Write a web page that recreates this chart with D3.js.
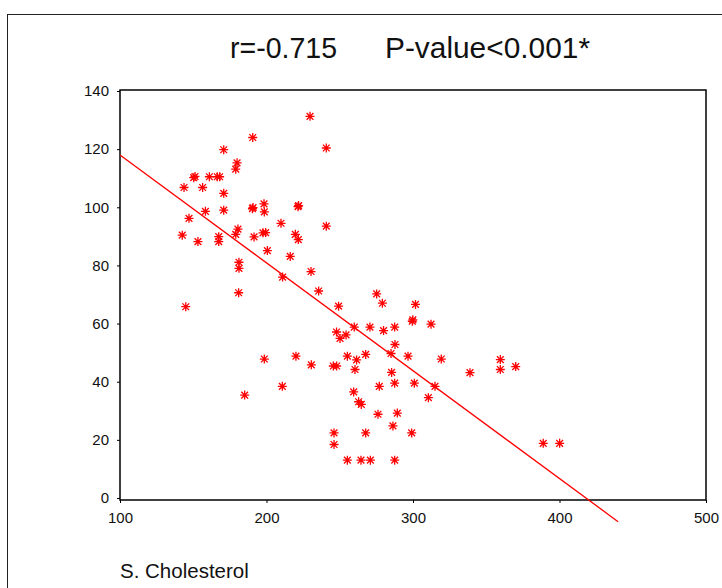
<!DOCTYPE html>
<html>
<head>
<meta charset="utf-8">
<script src="https://cdn.jsdelivr.net/npm/d3@7"></script>
<style>
  body { margin: 0; background: #fff; }
  text { font-family: "Liberation Sans", Arial, sans-serif; fill: #111; }
</style>
</head>
<body>
<div id="chart"></div>
<script>
// Data: S. Cholesterol (x) against the y variable
const cholesterol = [
  143.7, 150.3, 151.2, 161, 166.4, 168, 156.4, 170.8, 179.9, 179,
  190.6, 229.7, 240.8, 170.8, 198.3, 198.5, 190.4, 190.8, 221.5, 221.9,
  147.1, 158.3, 170.8, 142.5, 153.2, 167.4, 167.4, 180.5, 179, 191.5,
  197.6, 199.4, 209.9, 219.7, 221.7, 240.8, 200.6, 216.2, 181.2, 181.2,
  211, 230.4, 181, 235.6, 144.9, 275.2, 279.1, 249.2, 301.7, 299.5,
  299.9, 312.3, 259.9, 270.6, 279.9, 287.5, 247.8, 250.2, 254.3, 287.7,
  285, 296.6, 319.3, 338.9, 359.6, 359.6, 370.1, 198.5, 220.1, 230.6,
  245.6, 247.9, 255.2, 261.5, 267.7, 260.4, 285.4, 287.5, 277, 210.8,
  300.9, 315, 310.5, 185.1, 259.5, 262.9, 264.7, 276.1, 289.3, 286.3,
  246.1, 267.7, 299.1, 246.1, 255.2, 264.5, 270.9, 287.5, 388.9, 400.1
]
const yValues = [
  106.8, 110.2, 110.6, 110.5, 110.5, 110.5, 106.8, 119.8, 115.3, 113.1,
  124, 131.3, 120.4, 104.8, 101.2, 98.4, 99.5, 99.9, 100.2, 100.6,
  96.2, 98.6, 99, 90.4, 88.2, 89.9, 88.2, 92.5, 90.7, 89.8,
  91.2, 91.3, 94.5, 90.7, 88.9, 93.5, 85.1, 83.1, 81.1, 79,
  76, 77.9, 70.6, 71.2, 65.8, 70.2, 67, 66, 66.6, 60.8,
  61.3, 59.8, 58.8, 58.8, 57.6, 58.8, 57.1, 54.9, 56.1, 52.8,
  49.7, 48.8, 47.8, 43.1, 47.6, 44.2, 45.2, 47.8, 48.8, 45.8,
  45.4, 45.4, 48.8, 47.5, 49.4, 44.2, 43.2, 39.5, 38.4, 38.4,
  39.5, 38.4, 34.5, 35.4, 36.5, 33.1, 32.2, 28.8, 29.2, 24.8,
  22.4, 22.4, 22.4, 18.4, 13, 13, 13, 13, 18.8, 18.8
]
const xTicks = [100, 200, 300, 400, 500]
const yTicks = [0, 20, 40, 60, 80, 100, 120, 140]
// Fit line as drawn: intercept and slope, over the x span it covers
const fitIntercept = 155.1
const fitSlope = -0.371
const fitRange = [100, 440]

const W = 722
const H = 588

const svg = d3.select('#chart')
  .append('svg')
  .attr('width', W)
  .attr('height', H)

// Outer frame, runs off the right and bottom edges
svg.append('rect')
  .attr('x', 7.5)
  .attr('y', 14.5)
  .attr('width', 800)
  .attr('height', 700)
  .attr('fill', 'none')
  .attr('stroke', '#222')
  .attr('stroke-width', 1)

const x = d3.scaleLinear().domain([100, 500]).range([120, 706])
const y = d3.scaleLinear().domain([0, 140]).range([498, 91])

// Plot box
svg.append('rect')
  .attr('x', 120)
  .attr('y', 90)
  .attr('width', 706 - 120)
  .attr('height', 500 - 90)
  .attr('fill', 'none')
  .attr('stroke', '#000')
  .attr('stroke-width', 1.5)

// Axes
const xAxis = svg.append('g')
  .attr('transform', 'translate(0,500)')
  .call(d3.axisBottom(x).tickValues(xTicks).tickSize(3).tickPadding(9))
xAxis.select('.domain').remove()
xAxis.selectAll('text').attr('font-size', 15).style('font-family', '"Liberation Sans", Arial, sans-serif')

const yAxis = svg.append('g')
  .attr('transform', 'translate(120,0)')
  .call(d3.axisLeft(y).tickValues(yTicks).tickSize(3).tickPadding(8))
yAxis.select('.domain').remove()
yAxis.selectAll('text').attr('font-size', 15).style('font-family', '"Liberation Sans", Arial, sans-serif')

// Regression line
const line = d3.line()
  .x(d => x(d))
  .y(d => y(fitIntercept + fitSlope * d))

svg.append('path')
  .datum(fitRange)
  .attr('d', line)
  .attr('fill', 'none')
  .attr('stroke', '#ff0000')
  .attr('stroke-width', 1.3)

// Asterisk markers
const r = 4.5
const k = r * 0.75
const star = `M${-r},0H${r}M0,${-r}V${r}M${-k},${-k}L${k},${k}M${-k},${k}L${k},${-k}`

svg.selectAll('path.pt')
  .data(d3.range(cholesterol.length))
  .enter()
  .append('path')
  .attr('class', 'pt')
  .attr('d', star)
  .attr('transform', i => `translate(${x(cholesterol[i])},${y(yValues[i])})`)
  .attr('fill', 'none')
  .attr('stroke', '#ff0000')
  .attr('stroke-width', 1.3)

// Title, in two parts
svg.append('text')
  .attr('x', 230)
  .attr('y', 58)
  .attr('font-size', 29)
  .attr('textLength', 107)
  .attr('lengthAdjust', 'spacingAndGlyphs')
  .text('r=-0.715')

svg.append('text')
  .attr('x', 385)
  .attr('y', 58)
  .attr('font-size', 29)
  .attr('textLength', 205)
  .attr('lengthAdjust', 'spacingAndGlyphs')
  .text('P-value<0.001*')

// Axis title
svg.append('text')
  .attr('x', 120)
  .attr('y', 578)
  .attr('font-size', 20.5)
  .text('S. Cholesterol')
</script>
</body>
</html>
